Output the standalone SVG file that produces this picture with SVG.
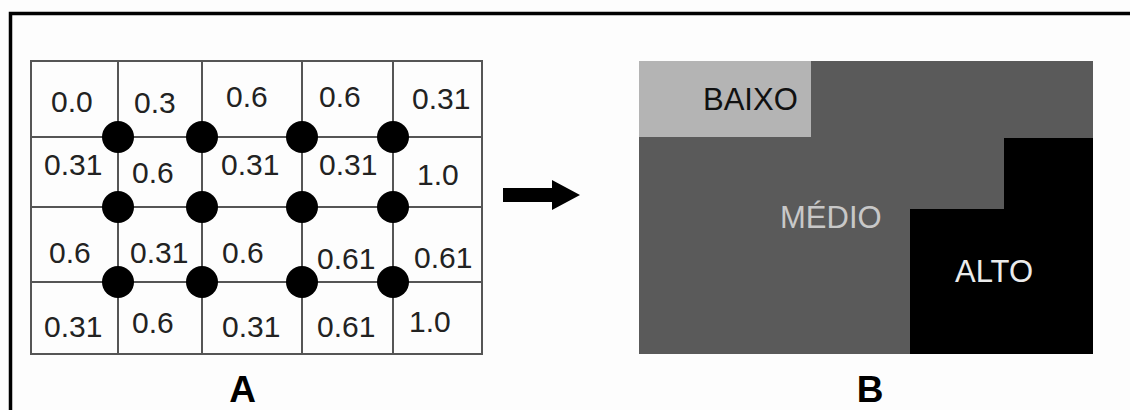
<svg xmlns="http://www.w3.org/2000/svg" width="1130" height="410" viewBox="0 0 1130 410">
<style>
.v{font-family:"Liberation Sans",Arial,sans-serif;font-size:30px;fill:#222}
.g{stroke:#555;stroke-width:2;fill:none}
.lbl{font-family:"Liberation Sans",Arial,sans-serif;font-size:31px}
.cap{font-family:"Liberation Sans",Arial,sans-serif;font-size:37px;font-weight:bold;fill:#000}
</style>
<rect width="1130" height="410" fill="#fdfdfd"/>
<path d="M10.5 410 V13.5 H1130" fill="none" stroke="#000" stroke-width="3.5"/>
<g id="gridA">
<rect class="g" x="31" y="61" width="451" height="293" fill="#fff"/>
<path class="g" d="M118 61V354M202 61V354M302 61V354M393 61V354M31 137H482M31 207H482M31 282H482"/>
</g>
<g id="dots" fill="#000">
<circle cx="118" cy="137" r="16"/><circle cx="202" cy="137" r="16"/><circle cx="302" cy="137" r="16"/><circle cx="393" cy="137" r="16"/>
<circle cx="118" cy="207" r="16"/><circle cx="202" cy="207" r="16"/><circle cx="302" cy="207" r="16"/><circle cx="393" cy="207" r="16"/>
<circle cx="118" cy="282" r="16"/><circle cx="202" cy="282" r="16"/><circle cx="302" cy="282" r="16"/><circle cx="393" cy="282" r="16"/>
</g>
<g id="values">
<text class="v" x="51" y="112">0.0</text>
<text class="v" x="134" y="113">0.3</text>
<text class="v" x="226" y="107">0.6</text>
<text class="v" x="319" y="107">0.6</text>
<text class="v" x="412" y="109">0.31</text>
<text class="v" x="44" y="175">0.31</text>
<text class="v" x="132" y="183">0.6</text>
<text class="v" x="221" y="175">0.31</text>
<text class="v" x="319" y="175">0.31</text>
<text class="v" x="417" y="185">1.0</text>
<text class="v" x="49" y="263">0.6</text>
<text class="v" x="130" y="263">0.31</text>
<text class="v" x="222" y="263">0.6</text>
<text class="v" x="317" y="269">0.61</text>
<text class="v" x="414" y="268">0.61</text>
<text class="v" x="44" y="337">0.31</text>
<text class="v" x="132" y="333">0.6</text>
<text class="v" x="222" y="337">0.31</text>
<text class="v" x="317" y="337">0.61</text>
<text class="v" x="409" y="332">1.0</text>
</g>
<g id="labelA"><text class="cap" x="242.5" y="402" text-anchor="middle">A</text></g>
<g id="connectors">
<polygon points="503,188 552,188 552,180 580,195 552,210 552,202 503,202" fill="#000"/>
</g>
<g id="mapB">
<rect x="639" y="61" width="454" height="293" fill="#5a5a5a"/>
<rect x="639" y="61" width="172" height="76" fill="#b4b4b4"/>
<polygon points="1004,138 1093,138 1093,354 910,354 910,209 1004,209" fill="#000"/>
</g>
<g id="baixo"><text class="lbl" x="703" y="110" fill="#111">BAIXO</text></g>
<g id="medio"><text class="lbl" x="780" y="228" fill="#c8c8c8">MÉDIO</text></g>
<g id="alto"><text class="lbl" x="955" y="282" fill="#ebebeb">ALTO</text></g>
<g id="labelB"><text class="cap" x="870" y="402" text-anchor="middle">B</text></g>
</svg>
